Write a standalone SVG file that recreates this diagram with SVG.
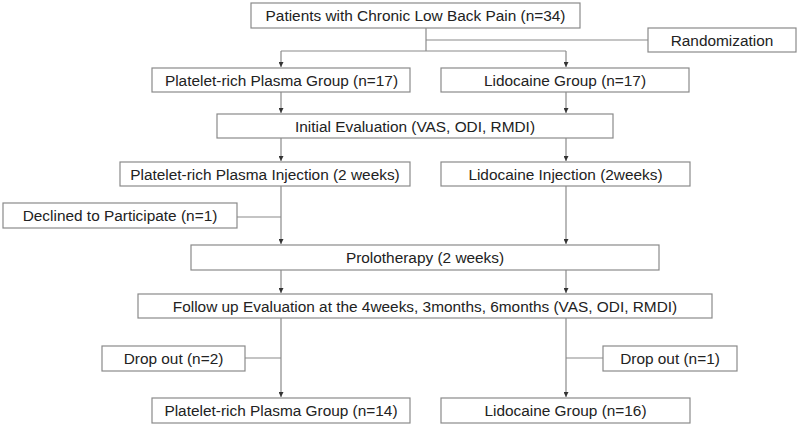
<svg xmlns="http://www.w3.org/2000/svg" width="800" height="426" viewBox="0 0 800 426">
<defs>
<style>
.box{fill:#fff;stroke:#8a8a8a;stroke-width:1.2}
.t{font-family:"Liberation Sans",Arial,sans-serif;font-size:15.4px;fill:#222;text-anchor:middle}
.c{fill:none;stroke:#8a8a8a;stroke-width:1.2}
</style>
<marker id="a" viewBox="0 0 6 6" refX="6" refY="3" markerWidth="5" markerHeight="5" orient="auto" markerUnits="userSpaceOnUse">
<path d="M0,0 L6,3 L0,6 Z" fill="#333"/>
</marker>
</defs>
<rect width="800" height="426" fill="#fff"/>
<g id="connectors">
<path class="c" d="M426,28 V51"/>
<path class="c" d="M426,40 H648"/>
<path class="c" d="M281,51 H566"/>
<path class="c" d="M281,51 V67" marker-end="url(#a)"/>
<path class="c" d="M566,51 V67" marker-end="url(#a)"/>
<path class="c" d="M281,92 V113" marker-end="url(#a)"/>
<path class="c" d="M566,92 V113" marker-end="url(#a)"/>
<path class="c" d="M281,138 V161" marker-end="url(#a)"/>
<path class="c" d="M566,138 V161" marker-end="url(#a)"/>
<path class="c" d="M281,186 V244" marker-end="url(#a)"/>
<path class="c" d="M237,217 H281"/>
<path class="c" d="M566,186 V244" marker-end="url(#a)"/>
<path class="c" d="M281,270 V293" marker-end="url(#a)"/>
<path class="c" d="M566,270 V293" marker-end="url(#a)"/>
<path class="c" d="M281,318 V397" marker-end="url(#a)"/>
<path class="c" d="M245,358 H281"/>
<path class="c" d="M566,318 V397" marker-end="url(#a)"/>
<path class="c" d="M566,358 H603"/>
</g>
<g id="n1"><rect class="box" x="251" y="3" width="329" height="25"/><text class="t" x="415.5" y="21">Patients with Chronic Low Back Pain (n=34)</text></g>
<g id="n2"><rect class="box" x="648" y="28" width="148" height="24"/><text class="t" x="722" y="45.5">Randomization</text></g>
<g id="n3"><rect class="box" x="152" y="68" width="258" height="24"/><text class="t" x="281.5" y="85.5">Platelet-rich Plasma Group (n=17)</text></g>
<g id="n4"><rect class="box" x="441" y="68" width="248" height="24"/><text class="t" x="565" y="85.5">Lidocaine Group (n=17)</text></g>
<g id="n5"><rect class="box" x="217" y="114" width="396" height="24"/><text class="t" x="415" y="131.5">Initial Evaluation (VAS, ODI, RMDI)</text></g>
<g id="n6"><rect class="box" x="120" y="162" width="290" height="24"/><text class="t" x="265" y="179.5">Platelet-rich Plasma Injection (2 weeks)</text></g>
<g id="n7"><rect class="box" x="441" y="162" width="249" height="24"/><text class="t" x="565.5" y="179.5">Lidocaine Injection (2weeks)</text></g>
<g id="n8"><rect class="box" x="3" y="203" width="234" height="25"/><text class="t" x="120" y="221">Declined to Participate (n=1)</text></g>
<g id="n9"><rect class="box" x="191" y="245" width="468" height="25"/><text class="t" x="425" y="263">Prolotherapy (2 weeks)</text></g>
<g id="n10"><rect class="box" x="138" y="294" width="574" height="24"/><text class="t" x="425" y="311.5">Follow up Evaluation at the 4weeks, 3months, 6months (VAS, ODI, RMDI)</text></g>
<g id="n11"><rect class="box" x="102" y="346" width="143" height="25"/><text class="t" x="173.5" y="364">Drop out (n=2)</text></g>
<g id="n12"><rect class="box" x="603" y="346" width="134" height="25"/><text class="t" x="670" y="364">Drop out (n=1)</text></g>
<g id="n13"><rect class="box" x="152" y="398" width="258" height="25"/><text class="t" x="281" y="416">Platelet-rich Plasma Group (n=14)</text></g>
<g id="n14"><rect class="box" x="441" y="398" width="249" height="25"/><text class="t" x="565.5" y="416">Lidocaine Group (n=16)</text></g>
</svg>
